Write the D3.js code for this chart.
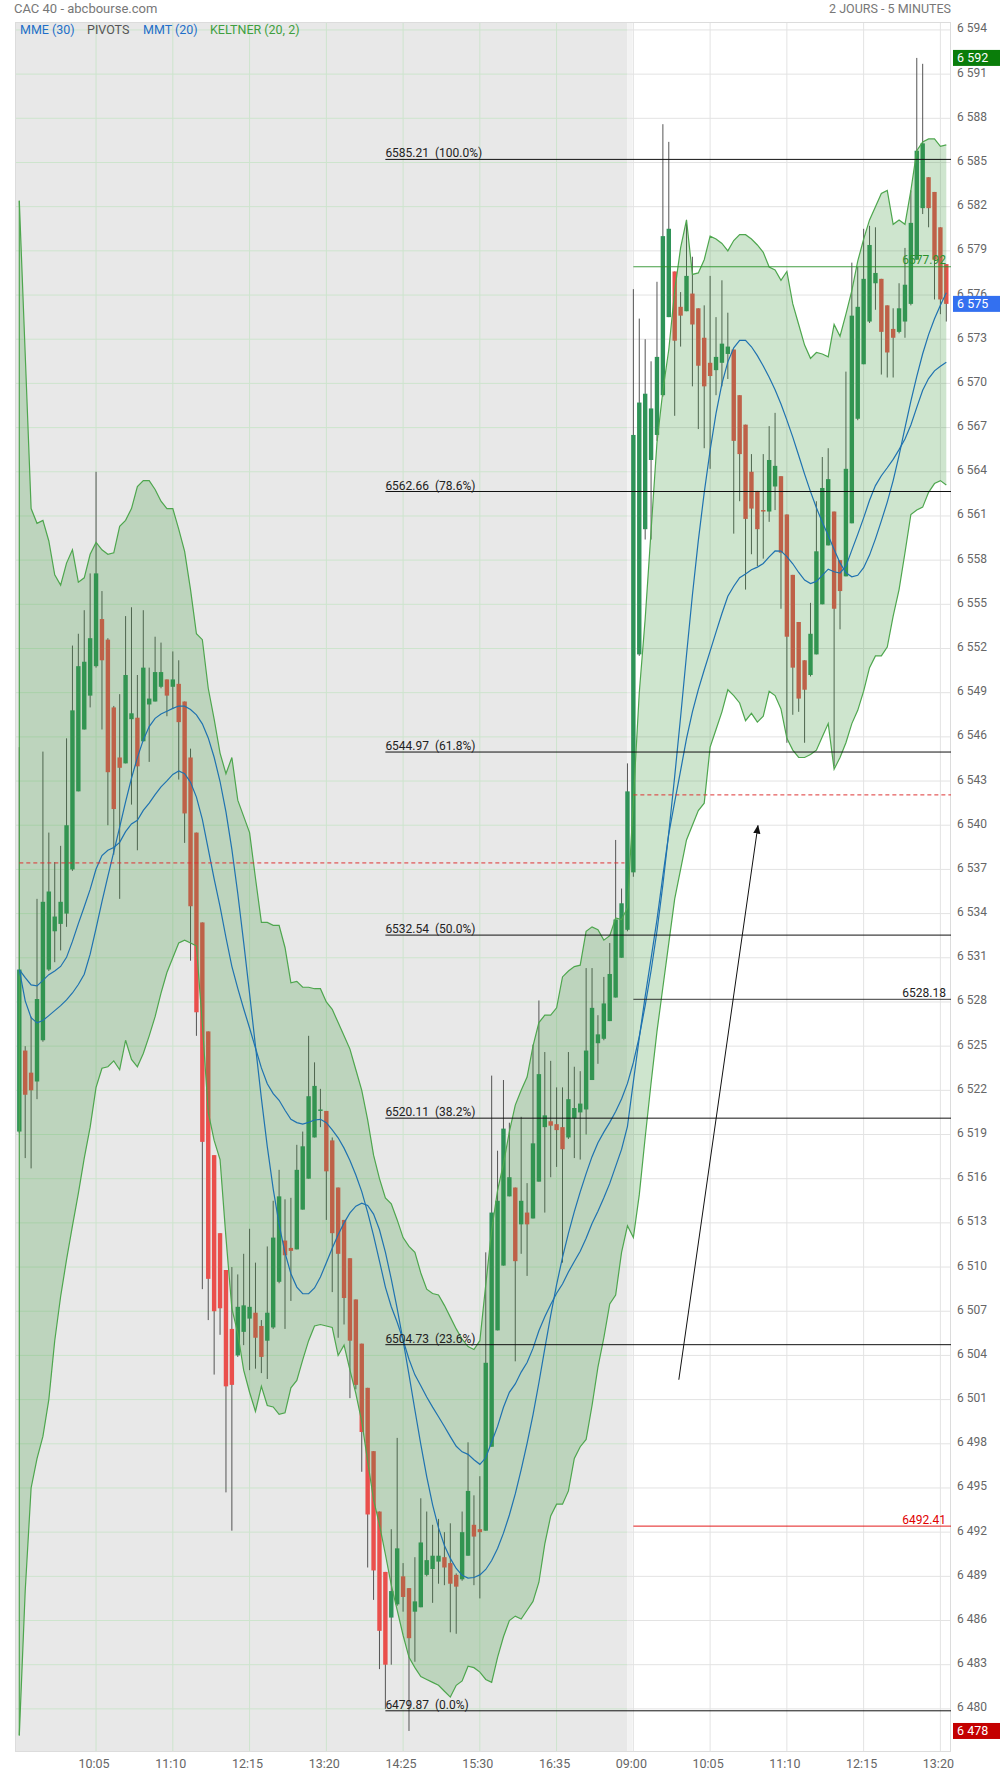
<!DOCTYPE html>
<html><head><meta charset="utf-8">
<script src="https://cdn.jsdelivr.net/npm/d3@7"></script>
<style>
html,body{margin:0;padding:0;background:#fff;}
svg{display:block;font-family:Roboto,"Noto Sans",sans-serif;}
</style></head>
<body>
<svg id="chart" width="1000" height="1774"></svg>
<script>
// ---------- DATA ----------
const openV = [6519.2,6524.7,6523.2,6522.6,6525.4,6530.2,6532.8,6533.3,6534.0,6537.0,
6542.3,6546.5,6548.8,6550.8,6554.0,6552.6,6548.0,6544.6,6544.2,6547.2,
6547.3,6545.7,6548.2,6548.4,6549.4,6549.9,6549.4,6549.6,6548.4,6544.6,
6539.5,6533.4,6526.0,6517.6,6512.3,6509.8,6505.8,6504.0,6505.6,6506.5,
6506.9,6506.0,6505.0,6505.9,6509.0,6511.8,6511.3,6511.2,6513.9,6516.0,
6518.8,6520.6,6520.6,6518.6,6515.4,6513.2,6510.6,6507.8,6504.8,6501.8,
6497.5,6493.4,6489.3,6486.2,6487.1,6489.0,6488.2,6486.6,6486.9,6489.1,
6489.5,6490.0,6490.3,6489.9,6489.1,6488.8,6490.4,6492.5,6492.2,6492.1,
6497.8,6505.7,6510.1,6514.8,6515.4,6512.9,6513.7,6513.3,6515.8,6519.5,
6519.9,6519.7,6519.5,6518.8,6520.1,6520.5,6520.7,6522.7,6525.2,6525.5,
6526.7,6528.3,6531.0,6532.9,6536.8,6551.6,6560.1,6564.8,6566.5,6569.2,
6574.5,6577.6,6575.2,6574.9,6576.1,6575.1,6573.1,6571.4,6570.9,6571.4,
6572.0,6572.3,6569.2,6567.2,6564.0,6562.7,6561.4,6561.3,6563.0,6563.7,
6561.1,6557.0,6553.8,6551.2,6550.2,6551.6,6555.0,6559.0,6561.3,6558.0,
6556.9,6560.5,6567.6,6571.3,6574.2,6576.8,6577.1,6575.3,6573.7,6573.5,
6574.2,6575.4,6578.4,6581.9,6584.0,6583.0,6580.6,6578.1];
const highV = [6545.3,6525.0,6527.0,6535.0,6545.0,6539.5,6537.5,6538.6,6545.9,6552.2,
6553.0,6554.6,6557.1,6564.0,6555.9,6552.7,6548.1,6548.9,6554.2,6554.8,
6550.2,6554.6,6550.7,6552.8,6552.4,6549.9,6551.8,6551.2,6548.4,6545.2,
6539.5,6533.4,6526.0,6517.6,6512.3,6509.8,6510.0,6509.5,6510.9,6512.6,
6510.3,6506.4,6511.4,6514.5,6516.6,6514.6,6514.7,6518.3,6519.2,6525.7,
6523.9,6522.1,6520.6,6518.8,6515.4,6513.2,6510.6,6507.8,6504.8,6501.8,
6497.5,6493.4,6489.3,6492.2,6498.4,6489.9,6488.2,6490.3,6494.3,6493.4,
6492.5,6492.9,6492.0,6492.6,6489.2,6493.4,6498.1,6494.5,6495.8,6511.0,
6523.0,6517.9,6522.7,6519.8,6515.4,6520.2,6515.7,6525.1,6528.1,6524.6,
6524.0,6522.2,6522.2,6524.6,6523.6,6523.3,6530.3,6530.3,6527.1,6529.7,
6532.0,6539.0,6535.7,6544.2,6576.4,6574.4,6573.0,6571.5,6576.9,6587.6,
6586.4,6577.6,6576.2,6581.1,6578.6,6575.1,6575.3,6577.3,6574.5,6577.0,
6574.8,6572.3,6569.2,6567.2,6565.2,6562.7,6565.2,6567.1,6568.0,6563.7,
6561.1,6557.0,6553.8,6551.2,6555.1,6562.0,6565.0,6565.6,6561.3,6558.0,
6570.8,6578.2,6577.9,6580.5,6580.7,6580.6,6577.1,6575.3,6575.1,6576.8,
6579.2,6583.1,6592.1,6591.7,6584.0,6583.0,6580.6,6578.1];
const lowV = [6519.1,6517.4,6516.7,6521.4,6525.3,6530.1,6530.7,6531.5,6533.1,6536.9,
6542.3,6546.5,6548.0,6550.7,6546.5,6540.0,6538.0,6535.0,6544.2,6541.4,
6538.3,6545.7,6544.3,6548.4,6549.3,6547.4,6547.9,6543.1,6538.8,6530.8,
6525.7,6508.5,6506.4,6502.7,6505.4,6494.7,6492.1,6503.9,6504.7,6503.0,
6503.1,6502.8,6502.4,6505.8,6508.9,6505.8,6507.7,6511.2,6513.9,6516.0,
6518.8,6519.5,6513.2,6508.3,6505.2,6506.1,6501.1,6501.7,6496.1,6489.6,
6487.4,6482.7,6480.0,6483.0,6487.0,6486.6,6478.5,6483.2,6486.9,6489.0,
6487.2,6488.5,6488.4,6485.2,6485.1,6488.7,6490.4,6488.4,6487.5,6492.1,
6497.8,6505.7,6510.1,6514.8,6503.6,6510.9,6509.4,6513.3,6515.8,6513.7,
6516.1,6516.8,6510.3,6518.7,6517.4,6517.3,6519.0,6522.7,6523.8,6525.4,
6526.7,6528.3,6531.0,6532.8,6536.5,6551.5,6559.4,6559.4,6566.1,6569.1,
6574.5,6567.8,6572.5,6574.9,6569.8,6566.9,6565.6,6564.2,6569.2,6569.8,
6570.3,6559.8,6562.0,6556.0,6558.4,6557.6,6558.1,6560.6,6561.4,6554.7,
6545.6,6547.5,6547.7,6545.6,6550.1,6551.6,6555.0,6559.0,6544.0,6553.3,
6556.9,6560.5,6567.5,6571.3,6574.1,6575.0,6570.6,6570.4,6570.4,6573.4,
6573.1,6575.3,6578.4,6581.5,6580.6,6575.7,6574.7,6574.2];
const closeV = [6530.2,6521.7,6522.0,6528.2,6534.8,6535.5,6533.8,6534.8,6540.0,6547.8,
6550.8,6551.1,6552.7,6557.1,6551.2,6543.6,6541.1,6543.9,6550.2,6547.6,
6544.0,6550.7,6548.6,6550.4,6550.4,6548.8,6549.9,6547.0,6540.8,6534.5,
6527.3,6518.5,6509.2,6507.0,6507.2,6501.9,6502.0,6507.3,6507.4,6507.3,
6505.2,6503.9,6506.9,6512.0,6514.8,6510.8,6511.1,6516.6,6518.2,6521.6,
6522.3,6520.7,6516.5,6512.3,6510.9,6507.9,6505.0,6502.0,6498.8,6493.2,
6489.4,6485.3,6483.0,6488.0,6490.9,6487.6,6484.8,6487.3,6491.3,6490.1,
6490.4,6490.4,6489.6,6488.5,6488.3,6492.0,6494.8,6491.7,6492.0,6503.5,
6513.7,6514.5,6519.4,6516.1,6510.4,6514.5,6512.9,6518.4,6523.1,6520.3,
6519.6,6519.3,6518.0,6521.4,6520.8,6521.1,6524.7,6527.6,6525.8,6527.9,
6529.9,6533.6,6534.7,6542.3,6566.5,6568.7,6569.3,6568.3,6571.8,6580.0,
6580.5,6572.9,6574.6,6577.3,6574.0,6571.2,6569.8,6570.5,6571.8,6572.7,
6572.5,6566.1,6565.2,6560.8,6561.5,6560.1,6561.3,6564.8,6564.4,6558.5,
6552.8,6550.7,6548.6,6549.2,6553.0,6558.6,6562.9,6563.5,6554.7,6555.9,
6564.2,6574.6,6575.2,6577.1,6579.4,6577.5,6573.5,6572.1,6573.1,6575.1,
6576.7,6580.9,6585.8,6586.3,6581.9,6578.4,6575.7,6575.4];
// Keltner (20, 2) band edges, read per candle
const keltnerUpper = [6582.4,6572.0,6561.5,6560.5,6560.7,6559.3,6557.0,6556.3,6557.8,6558.7,
6556.5,6556.8,6558.4,6559.2,6558.7,6558.4,6558.5,6560.3,6560.7,6561.5,
6563.0,6563.4,6563.4,6562.8,6562.0,6561.5,6561.5,6560.1,6558.6,6556.0,
6553.0,6552.6,6549.3,6547.2,6544.9,6543.5,6544.6,6541.7,6540.6,6539.5,
6536.4,6533.4,6533.4,6533.2,6533.2,6531.7,6529.3,6529.4,6529.0,6529.0,
6528.9,6528.9,6528.0,6527.5,6526.6,6525.7,6524.8,6523.4,6522.0,6520.0,
6517.6,6516.0,6514.7,6514.3,6513.2,6512.0,6511.4,6511.0,6509.6,6508.5,
6508.2,6508.1,6507.4,6506.6,6505.8,6505.1,6504.6,6504.4,6505.0,6508.8,
6512.5,6515.2,6517.0,6519.2,6521.0,6522.0,6522.9,6525.0,6526.6,6527.1,
6527.1,6527.6,6529.7,6530.1,6530.4,6530.5,6532.8,6533.1,6532.9,6532.2,
6532.5,6533.7,6533.6,6534.4,6541.7,6549.0,6554.0,6560.0,6566.0,6569.5,
6572.3,6576.3,6579.2,6581.1,6577.4,6577.5,6578.4,6580.0,6579.8,6579.5,
6579.0,6579.7,6580.1,6580.1,6579.8,6579.4,6578.9,6577.9,6577.7,6577.0,
6577.6,6575.4,6574.0,6572.6,6571.7,6572.1,6572.0,6571.8,6574.0,6573.2,
6574.7,6576.3,6578.3,6579.8,6581.1,6582.0,6582.9,6583.1,6580.8,6581.1,
6580.8,6583.1,6585.8,6586.4,6586.6,6586.6,6586.1,6586.2];
const keltnerLower = [6478.2,6488.0,6495.0,6497.0,6498.5,6501.0,6505.0,6508.0,6510.5,6512.8,
6515.0,6517.4,6519.5,6522.2,6523.5,6523.6,6524.0,6523.4,6525.4,6524.1,
6523.6,6524.5,6525.7,6527.0,6528.6,6530.0,6531.0,6532.0,6532.2,6532.0,
6531.8,6526.5,6520.5,6518.6,6517.3,6512.0,6507.2,6505.5,6503.0,6501.5,
6500.2,6501.9,6500.6,6500.5,6500.0,6500.1,6501.8,6502.3,6503.7,6505.0,
6506.0,6506.1,6506.0,6505.9,6504.0,6504.7,6503.0,6501.4,6499.5,6496.8,
6494.2,6492.5,6490.5,6488.4,6486.7,6485.0,6483.5,6482.8,6482.2,6482.0,
6481.8,6481.6,6481.2,6480.8,6481.6,6481.9,6482.9,6482.8,6482.5,6482.0,
6481.8,6483.5,6484.9,6486.0,6486.3,6486.1,6486.7,6487.3,6488.6,6491.2,
6493.1,6493.9,6493.9,6494.8,6497.0,6497.8,6498.3,6500.6,6503.2,6505.2,
6507.5,6508.1,6511.0,6512.8,6512.0,6514.9,6518.8,6522.5,6526.0,6529.0,
6532.0,6535.0,6537.0,6539.0,6540.0,6541.0,6541.5,6545.3,6546.5,6547.7,
6549.2,6548.8,6548.3,6547.1,6547.6,6547.0,6547.4,6549.1,6548.8,6547.9,
6545.9,6545.1,6544.6,6544.6,6544.8,6545.1,6546.0,6546.9,6543.8,6544.6,
6545.6,6546.9,6547.8,6549.1,6550.7,6551.5,6551.5,6552.1,6554.2,6556.0,
6558.5,6561.1,6561.4,6561.6,6562.6,6563.2,6563.4,6563.1];

// axis / labels
const yTicks = [6480,6483,6486,6489,6492,6495,6498,6501,6504,6507,6510,6513,6516,6519,6522,6525,
6528,6531,6534,6537,6540,6543,6546,6549,6552,6555,6558,6561,6564,6567,6570,6573,6576,6579,6582,6585,6588,6591,6594];
const xTickIndex = [13,26,39,52,65,78,91,104,117,130,143,156];
const xTickLabels = ["10:05","11:10","12:15","13:20","14:25","15:30","16:35","09:00","10:05","11:10","12:15","13:20"];
const dayTwoStart = 104;

// Fibonacci retracement levels
const fibValues = [6585.21,6562.66,6544.97,6532.54,6520.11,6504.73,6479.87];
const fibLabels = ["100.0%","78.6%","61.8%","50.0%","38.2%","23.6%","0.0%"];
const fibStartIndex = 62;

// other horizontal levels
const pivotDay1 = 6537.44, pivotDay2 = 6542.06;
const levelValues = [6528.18, 6492.41, 6577.92];
const levelColors = ["#222", "#e00000", "#2c922c"];
// arrow annotation (index, price)
const arrowFrom = [111.7, 6502.35], arrowTo = [125.1, 6539.98];
// right-side value boxes
const boxValues = [6592.1, 6575.4, 6478.5];
const boxLabels = ["6 592", "6 575", "6 478"];
const boxColors = ["#0a7d0a", "#3370f0", "#c40000"];

// ---------- indicators derived from the closes ----------
function emaOf(vals, n){ const k = 2/(n+1); let e = vals[0]; return vals.map((v,i)=> i===0 ? e : (e = e + k*(v-e))); }
function smaOf(vals, n){ return vals.map((v,i)=> d3.mean(vals.slice(Math.max(0,i-n+1), i+1))); }
const mme30 = emaOf(closeV, 30);
const mmt20 = smaOf(smaOf(closeV, 10), 11);

// ---------- CHART ----------
const svg = d3.select("#chart");
const plot = {l:15, r:951, t:22, b:1752};
const N = closeV.length;
const idx = d3.range(N);
const x = d3.scaleLinear().domain([0, N-1]).range([19.3, 946.3]);
const y = d3.scaleLinear().domain([6479.87, 6585.21]).range([1710.8, 159.4]);
const breakX = (x(dayTwoStart-1) + x(dayTwoStart))/2;

const defs = svg.append("defs");
defs.append("clipPath").attr("id","clip").append("rect")
  .attr("x",plot.l).attr("y",plot.t).attr("width",plot.r-plot.l).attr("height",plot.b-plot.t);
defs.append("clipPath").attr("id","clipD1").append("rect")
  .attr("x",plot.l).attr("y",plot.t).attr("width",breakX-3-plot.l).attr("height",plot.b-plot.t);
defs.append("clipPath").attr("id","clipD2").append("rect")
  .attr("x",breakX-3).attr("y",plot.t).attr("width",plot.r-breakX+3).attr("height",plot.b-plot.t);
defs.append("marker").attr("id","arr").attr("viewBox","0 0 10 10")
  .attr("refX",9).attr("refY",5).attr("markerWidth",9).attr("markerHeight",9).attr("orient","auto")
  .append("path").attr("d","M0,1 L10,5 L0,9 z").attr("fill","#111");

// backgrounds
svg.append("rect").attr("x",plot.l).attr("y",plot.t).attr("width",breakX-3-plot.l).attr("height",plot.b-plot.t).attr("fill","#e8e8e8");
svg.append("rect").attr("x",breakX-3).attr("y",plot.t).attr("width",5).attr("height",plot.b-plot.t).attr("fill","#f3f3f3");

// grid
function grid(clip, color){
  const g = svg.append("g").attr("clip-path",`url(#${clip})`);
  g.selectAll("line.h").data(yTicks).join("line").attr("class","h")
    .attr("x1",plot.l).attr("x2",plot.r).attr("y1",d=>y(d)).attr("y2",d=>y(d))
    .attr("stroke",color).attr("stroke-width",1);
  g.selectAll("line.v").data(xTickIndex).join("line").attr("class","v")
    .attr("x1",d=>x(d)).attr("x2",d=>x(d)).attr("y1",plot.t).attr("y2",plot.b)
    .attr("stroke",color).attr("stroke-width",1);
}
grid("clipD1","#cde4cd");
grid("clipD2","#e3e3e3");
svg.append("rect").attr("x",plot.l+0.5).attr("y",plot.t+0.5).attr("width",plot.r-plot.l-1).attr("height",plot.b-plot.t-1)
  .attr("fill","none").attr("stroke","#dcdcdc");

const main = svg.append("g").attr("clip-path","url(#clip)");

// candles
const bw = 4.4;
const cg = main.append("g");
cg.selectAll("line.w").data(idx).join("line").attr("class","w")
  .attr("x1",i=>x(i)).attr("x2",i=>x(i)).attr("y1",i=>y(highV[i])).attr("y2",i=>y(lowV[i]))
  .attr("stroke","#555").attr("stroke-width",1);
cg.selectAll("rect.b").data(idx).join("rect").attr("class","b")
  .attr("x",i=>x(i)-bw/2).attr("width",bw)
  .attr("y",i=>y(Math.max(openV[i],closeV[i])))
  .attr("height",i=>Math.max(1.2, Math.abs(y(openV[i])-y(closeV[i]))))
  .attr("fill",i=> closeV[i]>=openV[i] ? "#2f9358" : "#ea4f4c");

// Keltner band (fill drawn over the candles)
const area = d3.area().x(i=>x(i)).y0(i=>y(keltnerLower[i])).y1(i=>y(keltnerUpper[i]));
main.append("path").datum(idx).attr("d",area).attr("fill","rgba(60,150,60,0.25)");
const lineU = d3.line().x(i=>x(i)).y(i=>y(keltnerUpper[i]));
const lineL = d3.line().x(i=>x(i)).y(i=>y(keltnerLower[i]));
main.append("path").datum(idx).attr("d",lineU).attr("fill","none").attr("stroke","#4ea64e").attr("stroke-width",1.2);
main.append("path").datum(idx).attr("d",lineL).attr("fill","none").attr("stroke","#4ea64e").attr("stroke-width",1.2);
main.append("line").attr("x1",x(0)).attr("x2",x(0)).attr("y1",y(keltnerUpper[0])).attr("y2",y(keltnerLower[0]))
  .attr("stroke","#4ea64e").attr("stroke-width",1.2);

// moving averages
const maLine = arr => d3.line().x(i=>x(i)).y(i=>y(arr[i]));
main.append("path").datum(idx).attr("d",maLine(mme30)).attr("fill","none").attr("stroke","#1f72b0").attr("stroke-width",1.2);
main.append("path").datum(idx).attr("d",maLine(mmt20)).attr("fill","none").attr("stroke","#1f72b0").attr("stroke-width",1.2);

// pivots
main.append("line").attr("x1",x(0)).attr("x2",x(dayTwoStart-1.5)).attr("y1",y(pivotDay1)).attr("y2",y(pivotDay1))
  .attr("stroke","#d33").attr("stroke-width",1).attr("stroke-dasharray","4,3");
main.append("line").attr("x1",x(dayTwoStart)).attr("x2",plot.r).attr("y1",y(pivotDay2)).attr("y2",y(pivotDay2))
  .attr("stroke","#d33").attr("stroke-width",1).attr("stroke-dasharray","4,3");

// other levels
levelValues.forEach((v,k)=>{
  main.append("line").attr("x1",x(dayTwoStart)).attr("x2",plot.r).attr("y1",y(v)).attr("y2",y(v))
    .attr("stroke",levelColors[k]).attr("stroke-width",0.9);
  svg.append("text").attr("x",946).attr("y",y(v)-2.5).attr("text-anchor","end")
    .attr("font-size",12).attr("fill",levelColors[k]).text(v.toFixed(2));
});

// fibonacci
fibValues.forEach((v,k)=>{
  main.append("line").attr("x1",x(fibStartIndex)).attr("x2",plot.r).attr("y1",y(v)).attr("y2",y(v))
    .attr("stroke","#111").attr("stroke-width",1);
  svg.append("text").attr("x",x(fibStartIndex)).attr("y",y(v)-2).attr("font-size",12).attr("fill","#222")
    .text(v.toFixed(2)+"\u00a0\u00a0("+fibLabels[k]+")");
});

// arrow
main.append("line").attr("x1",x(arrowFrom[0])).attr("y1",y(arrowFrom[1])).attr("x2",x(arrowTo[0])).attr("y2",y(arrowTo[1]))
  .attr("stroke","#111").attr("stroke-width",1).attr("marker-end","url(#arr)");

// y axis labels
const fmt = d3.formatLocale({decimal:",",thousands:" ",grouping:[3],currency:["",""]}).format(",d");
svg.append("g").selectAll("text").data(yTicks).join("text")
  .attr("x",957).attr("y",d=>y(d)+2.5).attr("font-size",12).attr("fill","#666").text(d=>fmt(d));
boxValues.forEach((v,k)=>{
  const cy = y(v);
  svg.append("rect").attr("x",953).attr("y",cy-8).attr("width",47).attr("height",16).attr("fill",boxColors[k]);
  svg.append("text").attr("x",957).attr("y",cy+4.5).attr("font-size",12.5).attr("fill","#fff").text(boxLabels[k]);
});

// x axis labels
svg.append("g").selectAll("text").data(xTickIndex).join("text")
  .attr("x",d=>x(d)-2).attr("y",1768).attr("text-anchor","middle").attr("font-size",12.5).attr("fill","#666")
  .text((d,k)=>xTickLabels[k]);

// title & legend
svg.append("text").attr("x",14).attr("y",13).attr("font-size",13).attr("fill","#777").text("CAC 40 - abcbourse.com");
svg.append("text").attr("x",951).attr("y",13).attr("text-anchor","end").attr("font-size",12.5).attr("fill","#777").text("2 JOURS - 5 MINUTES");
const legend = [["MME (30)","#1f6fc8",20],["PIVOTS","#555",87],["MMT (20)","#1f6fc8",143],["KELTNER (20, 2)","#3f9f3f",210]];
legend.forEach(l=> svg.append("text").attr("x",l[2]).attr("y",33.5).attr("font-size",12.5).attr("fill",l[1]).text(l[0]));
</script>
</body></html>
